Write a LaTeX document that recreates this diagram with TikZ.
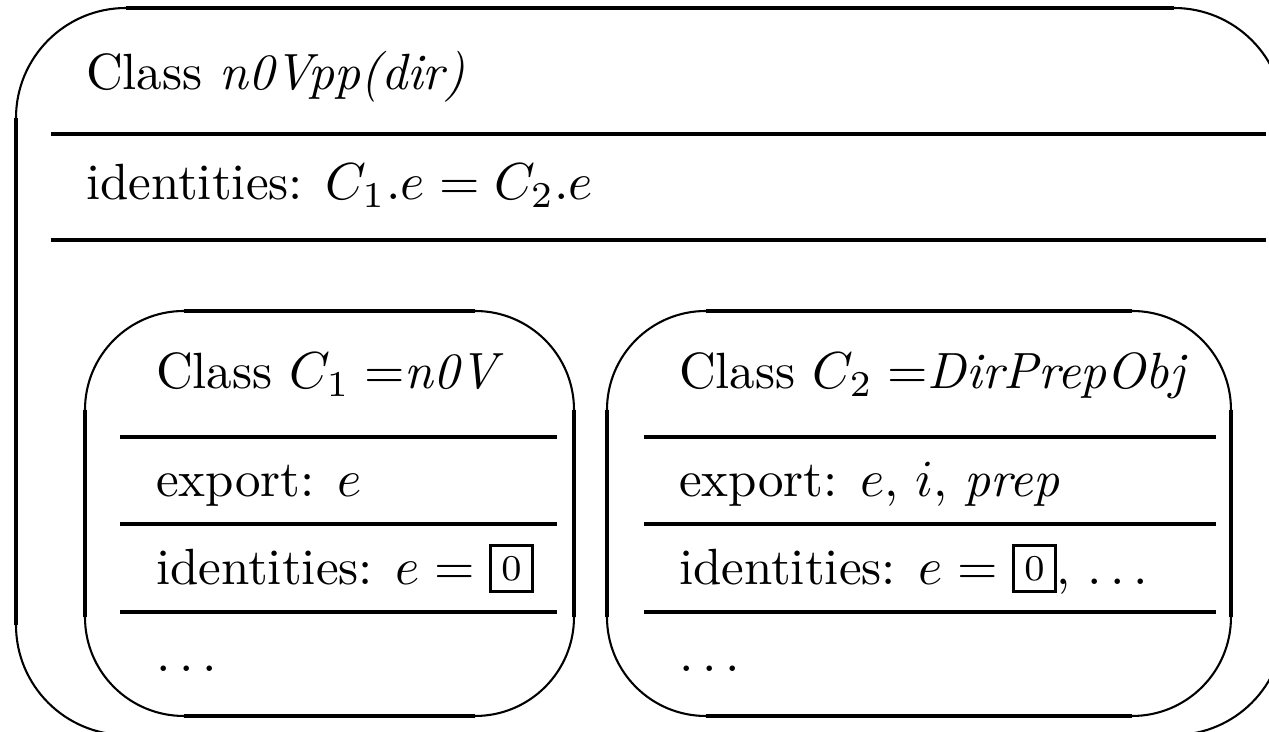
\documentclass[tikz,border=0pt]{standalone}
\newcommand{\slotbox}[1]{\raisebox{0.9pt}{\setlength{\fboxsep}{1.7pt}\setlength{\fboxrule}{0.6pt}\fbox{\fontsize{7}{7}\selectfont #1}}}
\begin{document}
\begin{tikzpicture}[x=0.1923pt, y=-0.1923pt,
    arcline/.style={line width=0.4pt},
    sideline/.style={line width=0.8pt},
    rowline/.style={line width=0.8pt},
    rowtext/.style={anchor=base west, inner sep=0pt, font=\fontsize{9.8}{11.8}\selectfont}]
  \useasboundingbox (0,0) rectangle (1269,732);
  \clip (0,0) rectangle (1269,732);

  % outer class
  \draw[arcline, rounded corners=21.15pt] (16,8) rectangle (1284,735);
  \draw[sideline] (16,118) -- (16,625);
  \draw[sideline] (126,8) -- (1174,8);
  \node[rowtext] (outername) at (85,90) {Class \textit{n0Vpp(dir)}};
  \draw[rowline] (51,134) -- (1266,134);
  \node[rowtext] (outerident) at (85,200) {identities: $C_1.e = C_2.e$};
  \draw[rowline] (51,240) -- (1266,240);

  % class C1
  \draw[arcline, rounded corners=19pt] (85,311) rectangle (574,716);
  \draw[sideline] (85,410) -- (85,617);
  \draw[sideline] (574,410) -- (574,617);
  \draw[sideline] (184,311) -- (475,311);
  \draw[sideline] (184,716) -- (475,716);
  \node[rowtext] (onename) at (155,389) {Class $C_1 =$\textit{n0V}};
  \draw[rowline] (120,437) -- (557,437);
  \node[rowtext] (oneexport) at (155,497) {export: $e$};
  \draw[rowline] (120,524) -- (557,524);
  \node[rowtext] (oneident) at (155,585) {identities: $e = \slotbox{0}$};
  \draw[rowline] (120,612) -- (557,612);
  \node[rowtext] (onerest) at (155,672) {$\ldots$};

  % class C2
  \draw[arcline, rounded corners=19pt] (607,311) rectangle (1231,716);
  \draw[sideline] (607,410) -- (607,617);
  \draw[sideline] (1231,410) -- (1231,617);
  \draw[sideline] (706,311) -- (1132,311);
  \draw[sideline] (706,716) -- (1132,716);
  \node[rowtext] (twoname) at (678,389) {Class $C_2 =$\textit{DirPrepObj}};
  \draw[rowline] (644,437) -- (1216,437);
  \node[rowtext] (twoexport) at (678,497) {export: $e$, $i$, \textit{prep}};
  \draw[rowline] (644,524) -- (1216,524);
  \node[rowtext] (twoident) at (678,585) {identities: $e = \slotbox{0}$, $\ldots$};
  \draw[rowline] (644,612) -- (1216,612);
  \node[rowtext] (tworest) at (678,672) {$\ldots$};
\end{tikzpicture}
\end{document}
